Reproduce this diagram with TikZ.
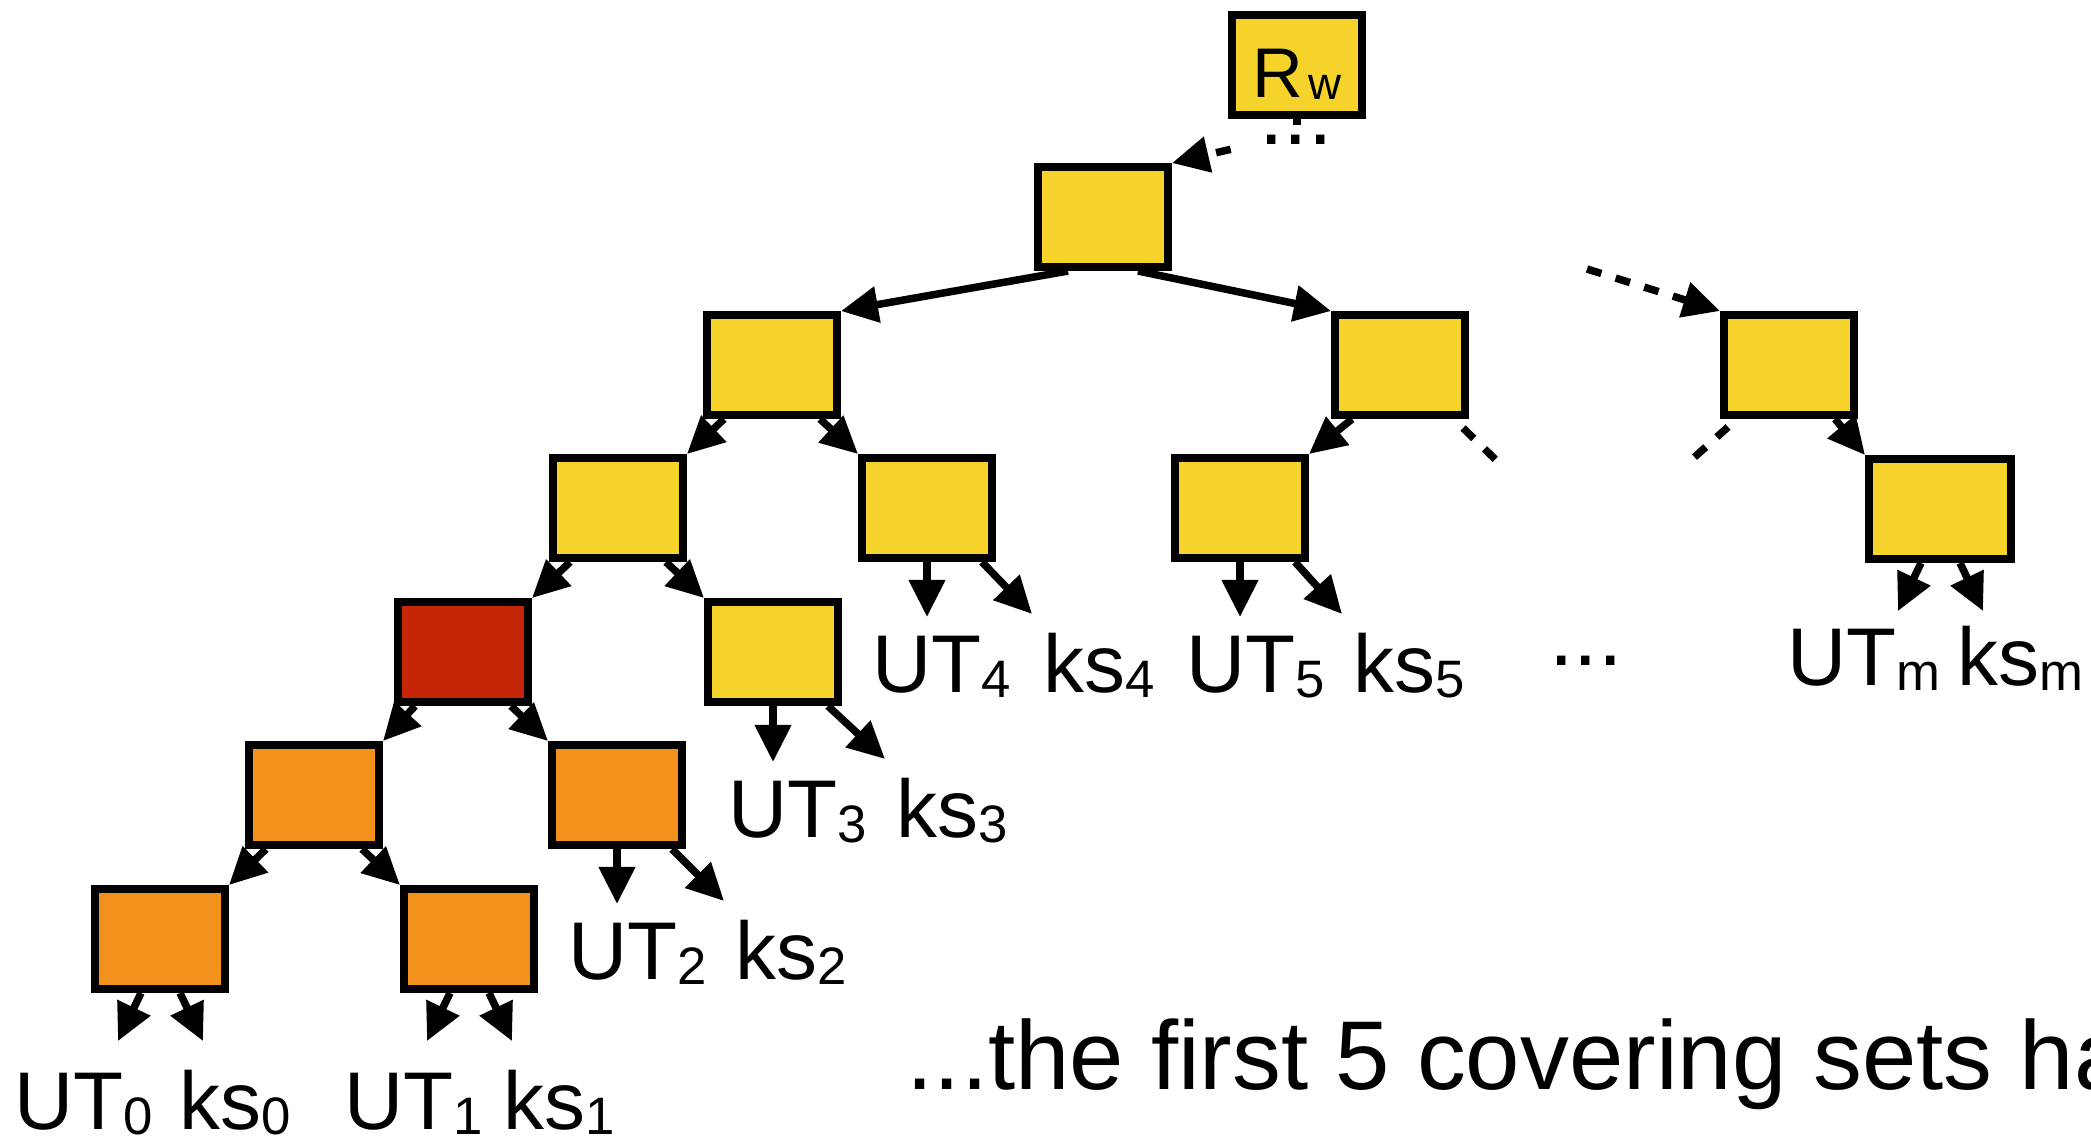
\documentclass[tikz,border=0pt]{standalone}
\usepackage{fontspec}
\setmainfont{Liberation Sans}
\usetikzlibrary{arrows.meta}
\definecolor{keyyellow}{RGB}{245,211,42}
\definecolor{keyorange}{RGB}{241,145,28}
\definecolor{keyred}{RGB}{198,37,8}
\newcommand{\lowidx}[1]{\raisebox{-0.5mm}{\fontsize{15}{15}\selectfont #1}}

\begin{document}
\begin{tikzpicture}[x=0.1mm,y=-0.1mm,
    box/.style={draw,line width=0.8mm,minimum width=13mm,minimum height=10mm,inner sep=0pt},
    link/.style={line width=0.75mm,-{Triangle[length=3.7mm,width=3.5mm]}},
    dashlink/.style={line width=0.75mm,dash pattern=on 1.5mm off 1.5mm},
    lbl/.style={anchor=base west,inner xsep=1.1mm,inner ysep=1.8mm,font=\fontsize{23.3}{28}\selectfont},
    dotlbl/.style={anchor=base,inner sep=0pt,font=\fontsize{25}{28}\selectfont}]
\useasboundingbox (0,0) rectangle (2091,1144);
%% boxes, top to bottom
\node[box,fill=keyyellow,text height=6.4mm,text depth=0pt,font=\fontsize{20}{20}\selectfont] (rw) at (1297,65) {R\kern0.6mm\raisebox{-0.2mm}{\fontsize{13}{13}\selectfont w}};
\node[box,fill=keyyellow] (n1) at (1103,217) {};
\node[box,fill=keyyellow] (n2a) at (772,365) {};
\node[box,fill=keyyellow] (n2b) at (1400,365) {};
\node[box,fill=keyyellow] (n2c) at (1789,365) {};
\node[box,fill=keyyellow] (n3a) at (618,508) {};
\node[box,fill=keyyellow] (n3b) at (927,508) {};
\node[box,fill=keyyellow] (n3c) at (1240,508) {};
\node[box,fill=keyyellow,minimum width=14.2mm] (n3d) at (1940,509) {};
\node[box,fill=keyred] (n4a) at (463,652) {};
\node[box,fill=keyyellow] (n4b) at (773,652) {};
\node[box,fill=keyorange] (n5a) at (314,795) {};
\node[box,fill=keyorange] (n5b) at (617,795) {};
\node[box,fill=keyorange] (n6a) at (160,939) {};
\node[box,fill=keyorange] (n6b) at (469,939) {};
%% labels
\node[lbl,inner ysep=0pt] (ut0) at (3,1129) {UT\lowidx{0}};
\node[lbl,inner ysep=0pt] (ks0) at (168,1129) {ks\lowidx{0}};
\node[lbl,inner ysep=0pt] (ut1) at (333,1129) {UT\lowidx{1}};
\node[lbl,inner ysep=0pt] (ks1) at (492,1129) {ks\lowidx{1}};
\node[lbl] (ut2) at (557,979) {UT\lowidx{2}};
\node[lbl] (ks2) at (724,979) {ks\lowidx{2}};
\node[lbl] (ut3) at (717,837) {UT\lowidx{3}};
\node[lbl] (ks3) at (885,837) {ks\lowidx{3}};
\node[lbl] (ut4) at (861,692) {UT\lowidx{4}};
\node[lbl] (ks4) at (1032,692) {ks\lowidx{4}};
\node[lbl] (ut5) at (1175,692) {UT\lowidx{5}};
\node[lbl] (ks5) at (1342,692) {ks\lowidx{5}};
\node[lbl] (utm) at (1776,685) {UT\lowidx{m}};
\node[lbl] (ksm) at (1946,685) {ks\lowidx{m}};
\node[dotlbl] (topdots) at (1296,144) {...};
\node[dotlbl] (middots) at (1586,665) {...};
\node[anchor=base west,inner sep=0pt,font=\fontsize{27.8}{33}\selectfont] (note) at (906,1089) {...the first 5 covering sets ha};
%% tree edges
\foreach \p/\c/\s/\a in {n1/n2a/-35/north east,n1/n2b/35/north west,
    n2a/n3a/-48/north east,n2a/n3b/48/north west,n2b/n3c/-48/north east,
    n2c/n3d/46/north west,n3a/n4a/-48/north east,n3a/n4b/48/north west,
    n4a/n5a/-48/north east,n4a/n5b/48/north west,
    n5a/n6a/-48/north east,n5a/n6b/48/north west}{
  \draw[link] ([shift={(\s,0)}]\p.south) -- (\c.\a);
}
% UT and ks arrows
\foreach \n/\u/\k in {n3b/ut4/ks4,n3c/ut5/ks5,n4b/ut3/ks3,n5b/ut2/ks2}{
  \draw[link] (\n.south) -- (\n.south |- \u.north);
  \draw[link] ([shift={(-14,0)}]\n.south east) -- (\k.north west);
}
\foreach \n in {n6a,n6b,n3d}{
  \draw[link] ([shift={(-19,0)}]\n.south) -- ([shift={(-42,48)}]\n.south);
  \draw[link] ([shift={(20,0)}]\n.south) -- ([shift={(43,48)}]\n.south);
}
% skipped parts
\draw[line width=0.8mm] (rw.south) -- ([shift={(0,6)}]rw.south);
\draw[dashlink,-{Triangle[length=3.7mm,width=3.5mm]}] ([shift={(-28,10)}]topdots.west) -- (n1.north east);
\draw[dashlink,-{Triangle[length=3.7mm,width=3.5mm]}] ([shift={(-133,-42)}]n2c.north west) -- (n2c.north west);
\draw[dashlink] ([shift={(-6,9)}]n2b.south east) -- ([shift={(30,44)}]n2b.south east);
\draw[dashlink] ([shift={(8,8)}]n2c.south west) -- ([shift={(-31,43)}]n2c.south west);
\end{tikzpicture}
\end{document}
